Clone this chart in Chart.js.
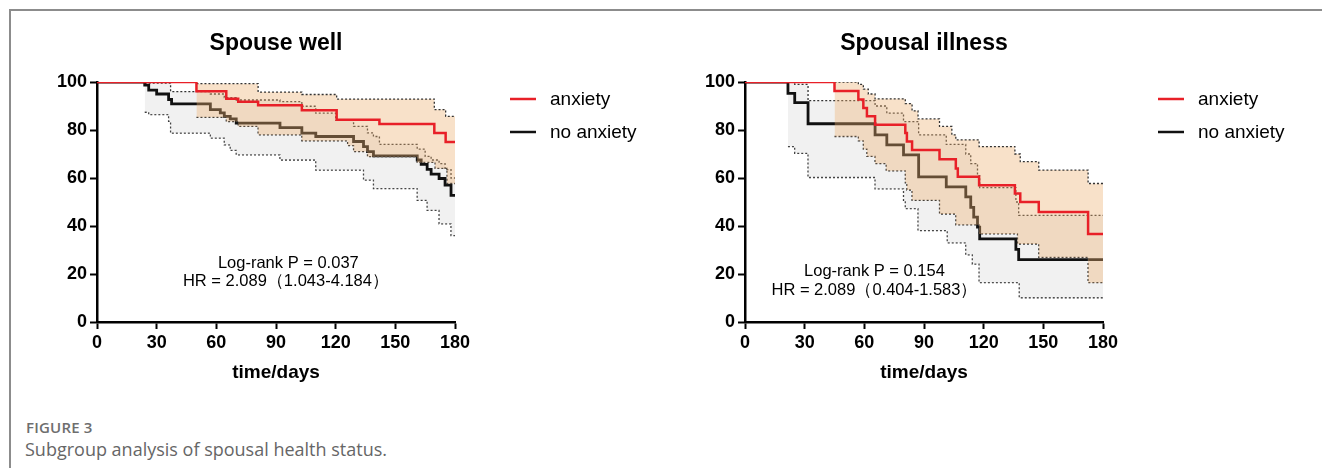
<!DOCTYPE html>
<html>
<head>
<meta charset="utf-8">
<script src="https://cdn.jsdelivr.net/npm/chart.js@4.4.1/dist/chart.umd.min.js"></script>
<style>
  body { margin: 0; background: #fff; width: 1322px; height: 468px; overflow: hidden; position: relative; }
  .frame { position: absolute; left: 9px; top: 9px; right: -2px; bottom: -2px; border-top: 2px solid #8c8c8c; border-left: 2px solid #8c8c8c; }
  canvas { position: absolute; top: 0; }
  #left { left: 0; }
  #right { left: 648px; }
  .fig { position: absolute; left: 26px; top: 417px; font: 600 15px "Open Sans", sans-serif; color: #6e6e6e; letter-spacing: 0.2px; }
  .cap { position: absolute; left: 25px; top: 437px; font: 18px "Open Sans", sans-serif; color: #666; }
</style>
</head>
<body>
<div class="frame"></div>
<canvas id="left" width="660" height="400"></canvas>
<canvas id="right" width="660" height="400"></canvas>
<div class="fig">FIGURE 3</div>
<div class="cap">Subgroup analysis of spousal health status.</div>
<script>
// Spouse well
const wellAnxT = [0, 50, 65, 71, 81, 103, 120.5, 142, 169.6, 175.3, 180];
const wellAnxV = [100, 96.1, 93.0, 91.8, 90.3, 88.2, 84.3, 82.5, 78.7, 75.0, 75.0];
const wellAnxUpT = [50, 81, 103, 120.5, 169.6, 175.3, 180];
const wellAnxUpV = [99.3, 95.8, 94.8, 92.9, 88.5, 85.7, 85.7];
const wellAnxLoT = [50, 65, 71, 81, 103, 126, 129, 136, 161, 170, 176, 180];
const wellAnxLoV = [85.3, 83.5, 81.5, 78, 75.5, 73.5, 71, 68.9, 66.5, 64, 57.7, 57.7];
const wellNoT = [0, 24, 26, 30, 36, 37.5, 57, 62, 64, 67, 70, 92, 103, 110, 129, 134, 136, 139, 161, 163, 166, 168, 172, 175, 178, 180];
const wellNoV = [100, 98.7, 96.6, 95, 92.7, 90.9, 88.5, 87.1, 85.7, 84.6, 82.9, 81, 78.7, 77.3, 75.2, 73.1, 71, 69.2, 67.5, 65.7, 63.6, 61.6, 59.8, 57, 52.8, 52.8];
const wellNoUpT = [24, 37, 57, 64, 70, 92, 103, 110, 120, 129, 136, 139, 142, 161, 165, 168, 172, 175, 178, 180];
const wellNoUpV = [99.5, 96, 95, 93.5, 92.5, 91.8, 89.9, 87, 84, 81.5, 78.8, 77.3, 74, 72, 69, 67.5, 66, 63.5, 60, 60];
const wellNoLoT = [24, 26, 36, 37, 57, 64, 67, 70, 92, 110, 134, 139, 161, 166, 172, 178, 180];
const wellNoLoV = [87.4, 86.4, 83.6, 78.7, 76.6, 73.8, 71.5, 69.6, 67.5, 63.3, 59.1, 55.6, 50.7, 46.5, 40.9, 36, 36];

// Spousal illness
const illAnxT = [0, 45, 57, 59.5, 61.3, 65.4, 80.6, 81.4, 84, 97.8, 106, 107, 117.7, 135.7, 138.4, 147.7, 172.5, 180];
const illAnxV = [100, 96.2, 92.7, 89.2, 85.7, 82.2, 78.7, 75.2, 71.7, 67.8, 64, 60.5, 57, 53.5, 50, 45.8, 36.7, 36.7];
const illAnxUpT = [45, 57, 59.5, 62, 65.4, 80.6, 84, 87, 97.8, 104, 106, 117.7, 135.7, 138.4, 147.7, 172.5, 180];
const illAnxUpV = [100, 99, 97, 95, 93, 91, 88, 84.6, 81.5, 78, 75.9, 73.1, 70, 66.8, 63.3, 57.7, 57.7];
const illAnxLoT = [45, 57, 59.5, 61.3, 65.4, 71, 80.6, 81.4, 84, 97.8, 106, 117.7, 137, 147.7, 172.5, 180];
const illAnxLoV = [77.3, 75.5, 72, 69, 66, 63, 58, 55, 50.7, 45, 40.5, 36.7, 32.5, 26.9, 16.4, 16.4];
const illNoT = [0, 21.6, 25, 31.7, 65.4, 71.3, 79.7, 87.3, 101.2, 111, 113.5, 115, 116.9, 118, 136.2, 137.6, 180];
const illNoV = [100, 95.3, 91.4, 82.6, 78, 73.8, 69.6, 60.5, 56.3, 52.1, 47.8, 43.7, 39.5, 34.6, 30.3, 26, 26];
const illNoUpT = [21.6, 25, 31.7, 65.4, 71.3, 79.7, 87.3, 101.2, 111, 113.5, 116.9, 118, 136.2, 137.6, 180];
const illNoUpV = [100, 99, 92.2, 90, 87, 83.5, 78, 74, 70, 66, 61, 56, 50, 44.4, 44.4];
const illNoLoT = [21.6, 25, 31.7, 65.4, 79.7, 80.6, 87, 101.7, 111, 114.3, 117.7, 137.9, 180];
const illNoLoV = [73.1, 70.3, 60.2, 55.5, 50.7, 47.2, 38.1, 33, 28, 24.1, 16.4, 10.1, 10.1];

const xTicks = [0, 30, 60, 90, 120, 150, 180];
const yTicks = [0, 20, 40, 60, 80, 100];
const groups = ['anxiety', 'no anxiety'];

const RED = 'rgb(232, 32, 40)';
const BLACK = '#111';
const FONT = 'Arial, "Liberation Sans", sans-serif';

function pts(t, v) {
    return t.map((x, i) => ({ x: x, y: v[i] }));
}

function curve(label, t, v, color, width) {
    return {
        label: label,
        data: pts(t, v),
        borderColor: color,
        borderWidth: width,
        stepped: true,
        pointRadius: 0,
        fill: false,
    };
}

function band(t, v, fillColor) {
    return {
        label: '',
        data: pts(t, v),
        borderColor: '#333',
        borderWidth: 1.3,
        borderDash: [2, 2],
        stepped: true,
        pointRadius: 0,
        backgroundColor: fillColor,
        fill: fillColor ? '+1' : false,
    };
}

const textPlugin = {
    id: 'texts',
    afterDraw(chart) {
        const o = chart.options.plugins.texts;
        const ctx = chart.ctx;
        const a = chart.chartArea;
        const xs = chart.scales.x, ys = chart.scales.y;
        ctx.save();
        ctx.fillStyle = '#000';
        ctx.textBaseline = 'middle';
        ctx.textAlign = 'center';
        ctx.font = 'bold 23px ' + FONT;
        ctx.fillText(o.title, (a.left + a.right) / 2, 44);

        ctx.font = '16.5px ' + FONT;
        o.notes.forEach(n => ctx.fillText(n.text, xs.getPixelForValue(n.x), ys.getPixelForValue(n.y)));

        // legend
        ctx.textAlign = 'left';
        ctx.font = '19px ' + FONT;
        [[RED, groups[0]], [BLACK, groups[1]]].forEach((g, i) => {
            const y = 99 + i * 33;
            ctx.strokeStyle = g[0];
            ctx.lineWidth = 2.5;
            ctx.beginPath();
            ctx.moveTo(a.right + 55, y);
            ctx.lineTo(a.right + 81, y);
            ctx.stroke();
            ctx.fillText(g[1], a.right + 95, y + 1);
        });
        ctx.restore();
    }
};

function makeChart(id, title, notes, sets) {
    const tickFont = { family: FONT, size: 18, weight: 'bold' };
    const axis = (min, max, step, ticks) => ({
        type: 'linear',
        min: min,
        max: max,
        afterBuildTicks: s => { s.ticks = ticks.map(v => ({ value: v })); },
        ticks: { stepSize: step, color: '#000', font: tickFont, padding: 3 },
        grid: { display: true, drawOnChartArea: false, drawTicks: true, tickLength: 7, tickWidth: 2, tickColor: '#000' },
        border: { display: true, width: 2.5, color: '#000' },
    });
    const x = axis(0, 180, 30, xTicks);
    x.ticks.padding = 3;
    x.title = { display: true, text: 'time/days', color: '#000', font: { family: FONT, size: 19, weight: 'bold' } };
    x.afterFit = s => { s.height = 66; };
    const y = axis(0, 100, 20, yTicks);
    y.afterFit = s => { s.width = 50; };

    return new Chart(document.getElementById(id), {
        type: 'line',
        data: { datasets: sets },
        options: {
            responsive: false,
            animation: false,
            devicePixelRatio: 1,
            layout: { padding: { left: 47, top: 82, right: 205, bottom: 12 } },
            scales: { x: x, y: y },
            plugins: {
                legend: { display: false },
                tooltip: { enabled: false },
                texts: { title: title, notes: notes },
            },
        },
        plugins: [textPlugin],
    });
}

const ORANGE_FILL = 'rgba(236, 176, 112, 0.38)';
const GREY_FILL = 'rgba(200, 200, 200, 0.26)';

makeChart('left', 'Spouse well', [
    { text: 'Log-rank P = 0.037', x: 96.2, y: 24.5 },
    { text: 'HR = 2.089（1.043-4.184）', x: 95, y: 16.9 },
], [
    curve(groups[0], wellAnxT, wellAnxV, RED, 2.5),
    band(wellAnxUpT, wellAnxUpV, ORANGE_FILL),
    band(wellAnxLoT, wellAnxLoV, null),
    curve(groups[1], wellNoT, wellNoV, BLACK, 2.8),
    band(wellNoUpT, wellNoUpV, GREY_FILL),
    band(wellNoLoT, wellNoLoV, null),
]);

makeChart('right', 'Spousal illness', [
    { text: 'Log-rank P = 0.154', x: 65.1, y: 20.9 },
    { text: 'HR = 2.089（0.404-1.583）', x: 65.1, y: 13.3 },
], [
    curve(groups[0], illAnxT, illAnxV, RED, 2.5),
    band(illAnxUpT, illAnxUpV, ORANGE_FILL),
    band(illAnxLoT, illAnxLoV, null),
    curve(groups[1], illNoT, illNoV, BLACK, 2.8),
    band(illNoUpT, illNoUpV, GREY_FILL),
    band(illNoLoT, illNoLoV, null),
]);
</script>
</body>
</html>
